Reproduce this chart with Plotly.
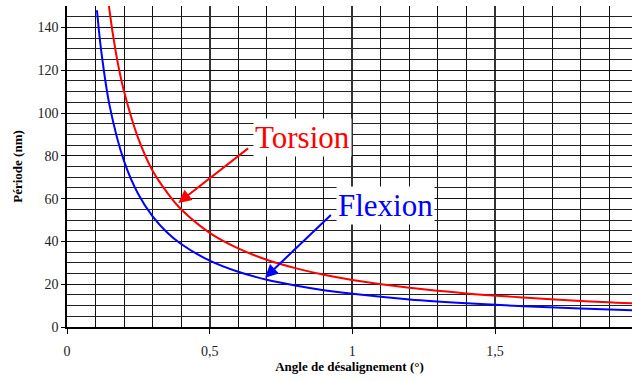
import plotly.graph_objects as go

# Data
flexion_x = [0.105, 0.12, 0.15, 0.2, 0.25, 0.3, 0.35, 0.4, 0.5, 0.6, 0.7, 0.8, 0.9, 1.0, 1.2, 1.4, 1.6, 1.8, 1.98]
flexion_y = [148, 129, 103, 77.5, 62, 51.7, 44.3, 38.8, 31, 25.8, 22.1, 19.4, 17.2, 15.5, 12.9, 11.1, 9.7, 8.6, 7.8]

torsion_x = [0.147, 0.16, 0.18, 0.2, 0.25, 0.3, 0.35, 0.4, 0.5, 0.6, 0.7, 0.8, 0.9, 1.0, 1.2, 1.4, 1.6, 1.8, 1.98]
torsion_y = [150, 137.5, 122, 110, 88, 73, 63, 55, 44, 36.7, 31.4, 27.5, 24.4, 22, 18.3, 15.7, 13.8, 12.2, 11.1]

x_tickvals = [0, 0.5, 1, 1.5]
x_ticktext = ["0", "0,5", "1", "1,5"]
y_tickvals = [0, 20, 40, 60, 80, 100, 120, 140]

FONT = "Liberation Serif"

fig = go.Figure()
fig.add_trace(go.Scatter(x=torsion_x, y=torsion_y, mode="lines", name="Torsion",
                         line=dict(color="#ff0000", width=2), line_shape="spline"))
fig.add_trace(go.Scatter(x=flexion_x, y=flexion_y, mode="lines", name="Flexion",
                         line=dict(color="#0000ff", width=2), line_shape="spline"))

# Labels
fig.add_annotation(x=0.825, y=88.5, xref="x", yref="y", text="Torsion", showarrow=False,
                   font=dict(family=FONT, size=31, color="#ff0000"), bgcolor="white", borderpad=1)
fig.add_annotation(x=1.115, y=57, xref="x", yref="y", text="Flexion", showarrow=False,
                   font=dict(family=FONT, size=31, color="#0000ff"), bgcolor="white", borderpad=1)
# Arrows
fig.add_annotation(x=0.39, y=58, ax=0.64, ay=84, xref="x", yref="y", axref="x", ayref="y",
                   text=" ", showarrow=True, arrowhead=2, arrowsize=1.3, arrowwidth=2,
                   arrowcolor="#ff0000", font=dict(size=1))
fig.add_annotation(x=0.694, y=23, ax=0.93, ay=53, xref="x", yref="y", axref="x", ayref="y",
                   text=" ", showarrow=True, arrowhead=2, arrowsize=1.3, arrowwidth=2,
                   arrowcolor="#0000ff", font=dict(size=1))

fig.update_layout(
    width=632, height=381,
    margin=dict(l=67, r=0, t=6, b=54),
    paper_bgcolor="white", plot_bgcolor="white",
    showlegend=False,
    font=dict(family=FONT, size=14, color="#222"),
)
fig.update_xaxes(
    range=[0, 1.98], tickvals=x_tickvals, ticktext=x_ticktext,
    tickfont=dict(family=FONT, size=14, color="#222"),
    showgrid=True, gridcolor="#333", gridwidth=1.5,
    minor=dict(dtick=0.1, tick0=0, showgrid=True, gridcolor="#111", gridwidth=1),
    showline=True, linecolor="black", linewidth=1.5,
    ticks="outside", ticklen=5, tickcolor="black", ticklabelstandoff=5,
    title=dict(text="<b>Angle de désalignement (°)</b>", font=dict(family=FONT, size=13, color="black"), standoff=2),
    zeroline=False,
)
fig.update_yaxes(
    range=[0, 150], tickvals=y_tickvals,
    tickfont=dict(family=FONT, size=14, color="#222"),
    showgrid=True, gridcolor="#111", gridwidth=1,
    minor=dict(dtick=5, tick0=0, showgrid=True, gridcolor="#222", gridwidth=1),
    showline=True, linecolor="black", linewidth=1.5,
    ticks="outside", ticklen=4, tickcolor="black",
    title=dict(text="<b>Période (nm)</b>", font=dict(family=FONT, size=13, color="black"), standoff=12),
    zeroline=False,
)

fig.write_html("out.html", config={"displayModeBar": False},
               post_script="document.body.style.margin='0';")
